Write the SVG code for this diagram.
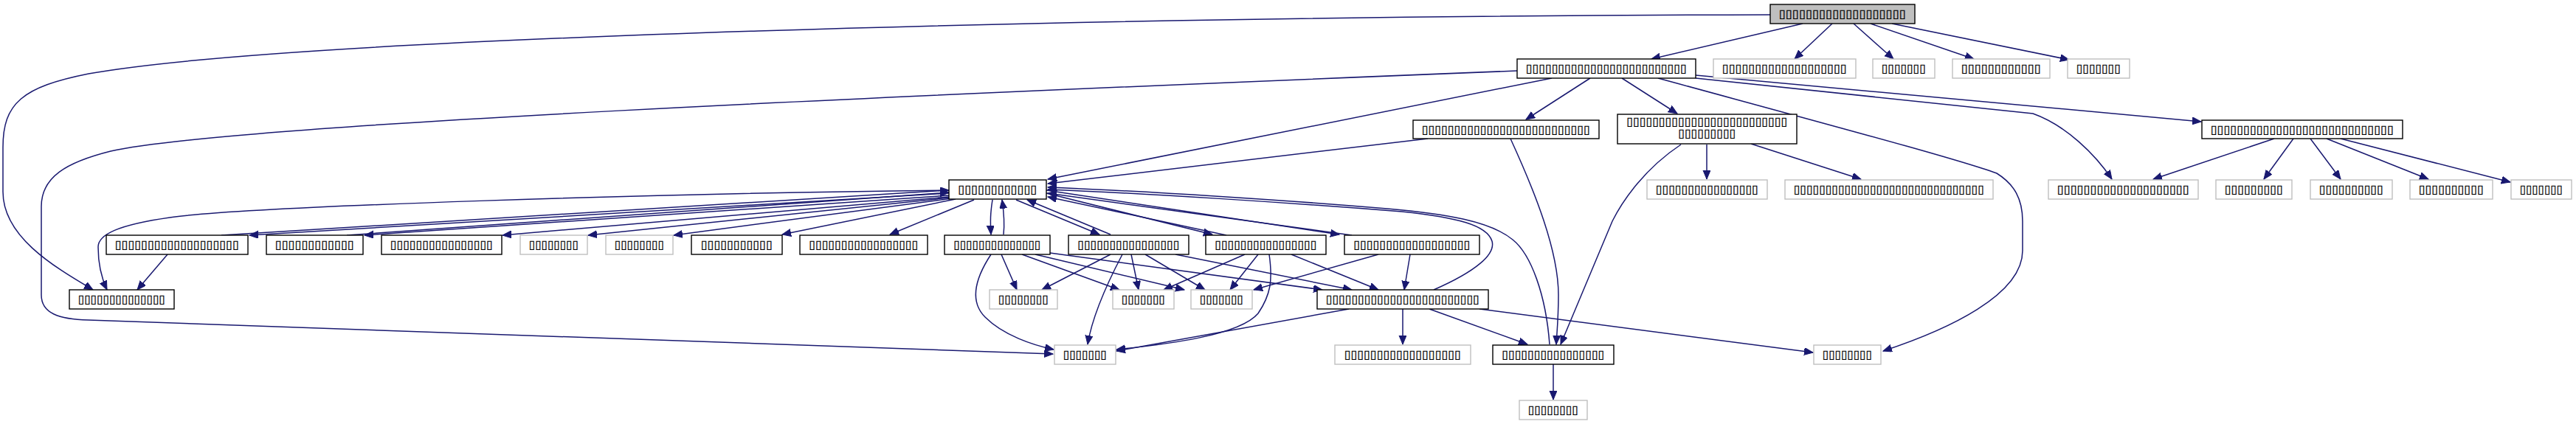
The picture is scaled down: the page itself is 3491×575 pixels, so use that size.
<svg xmlns="http://www.w3.org/2000/svg" width="3491" height="575" viewBox="0 0 3491 575">
<style>
.d{fill:#fff;stroke:#000;stroke-width:1.4}
.u{fill:#fff;stroke:#bfbfbf;stroke-width:1.4}
.r{fill:#bfbfbf;stroke:#000;stroke-width:1.4}
text{font-family:"DejaVu Sans","Liberation Sans",sans-serif;font-size:16px;fill:#000;stroke:#000;stroke-width:0.3;text-anchor:middle}
.e path{fill:none;stroke:#191970;stroke-width:1.5;marker-end:url(#a)}
</style>
<defs>
<marker id="a" markerUnits="userSpaceOnUse" markerWidth="13" markerHeight="11" refX="12" refY="5" orient="auto">
<path d="M0,0 L12,5 L0,10 z" fill="#191970" stroke="#191970" stroke-width="1"/>
</marker>
</defs>
<rect width="3491" height="575" fill="#fff"/>
<g class="e" id="connectors">
<path d="M2443,32 L2238,80"/>
<path d="M2483,32 L2432,80"/>
<path d="M2512,32 L2566,80"/>
<path d="M2535,32 L2675,80"/>
<path d="M2564,32 L2804,81"/>
<path d="M2399,20 C1500,22 400,50 120,100 C30,118 4,140 4,200 L4,260 C4,320 70,360 126,393"/>
<path d="M2155,106 L2068,162"/>
<path d="M2198,106 L2273,154"/>
<path d="M2103,106 L1420,243"/>
<path d="M1935,188 L1420,249"/>
<path d="M2056,96 C1200,130 300,170 150,205 C90,220 56,240 56,280 L56,400 C56,425 80,433 120,434 L1427,480"/>
<path d="M2247,106 C2500,175 2650,215 2706,235 C2730,250 2741,270 2741,300 L2741,340 C2741,400 2640,447 2552,476"/>
<path d="M2298,106 L2755,154 C2800,170 2840,210 2862,243"/>
<path d="M2298,102 L2983,165"/>
<path d="M2047,188 C2080,260 2112,340 2112,400 C2112,430 2110,450 2109,467"/>
<path d="M2313,196 L2313,243"/>
<path d="M2373,195 L2522,243"/>
<path d="M2278,196 C2230,228 2200,270 2185,300 L2115,467"/>
<path d="M3082,188 L2918,243"/>
<path d="M3108,188 L3068,243"/>
<path d="M3131,188 L3172,243"/>
<path d="M3153,188 L3291,243"/>
<path d="M3172,188 L3402,247"/>
<path d="M1286,262 L338,319"/>
<path d="M300,319 L1286,258"/>
<path d="M1286,265 L494,319"/>
<path d="M470,319 L1286,261"/>
<path d="M1286,258 C900,262 330,280 230,295 C160,305 133,318 133,335 C133,360 138,378 145,393"/>
<path d="M227,345 L186,393"/>
<path d="M1286,267 L681,319"/>
<path d="M1288,268 L797,319"/>
<path d="M1290,269 L913,319"/>
<path d="M1295,270 L1060,318"/>
<path d="M1320,271 L1206,318"/>
<path d="M1345,271 C1342,290 1342,300 1343,318"/>
<path d="M1360,318 C1362,300 1360,285 1358,271"/>
<path d="M1377,271 L1490,318"/>
<path d="M1505,318 L1392,271"/>
<path d="M1418,262 L1643,318"/>
<path d="M1662,319 L1420,267"/>
<path d="M1418,258 L1815,318"/>
<path d="M1832,319 L1420,262"/>
<path d="M1943,393 C2000,368 2027,345 2022,327 C2015,305 1975,295 1900,287 C1750,275 1550,262 1420,257"/>
<path d="M2100,467 C2095,400 2075,345 2050,325 C2020,300 1960,290 1880,283 C1750,272 1550,259 1420,254"/>
<path d="M1357,345 L1378,393"/>
<path d="M1343,345 C1320,380 1315,410 1335,430 C1360,455 1400,468 1428,474"/>
<path d="M1385,345 L1517,393"/>
<path d="M1403,345 L1605,393"/>
<path d="M1423,343 L1792,393"/>
<path d="M1505,345 L1412,393"/>
<path d="M1521,345 C1500,385 1480,430 1474,467"/>
<path d="M1533,345 L1543,393"/>
<path d="M1552,345 L1633,393"/>
<path d="M1593,345 L1832,393"/>
<path d="M1687,345 L1577,393"/>
<path d="M1705,345 L1667,393"/>
<path d="M1720,345 C1725,380 1722,400 1705,425 C1680,455 1580,467 1513,474"/>
<path d="M1750,345 L1868,393"/>
<path d="M1868,345 L1699,393"/>
<path d="M1911,345 L1903,393"/>
<path d="M1828,419 L1513,476"/>
<path d="M1901,419 L1901,467"/>
<path d="M1937,419 L2070,467"/>
<path d="M2005,419 L2457,478"/>
<path d="M2105,494 L2105,542"/>
</g>
<g id="N0"><rect class="r" x="2399" y="6" width="196" height="26"/><text x="2497" y="24" textLength="172" lengthAdjust="spacingAndGlyphs">▯▯▯▯▯▯▯▯▯▯▯▯▯▯▯▯▯▯▯</text></g>
<g id="N1"><rect class="d" x="2056" y="80" width="242" height="26"/><text x="2177" y="98" textLength="218" lengthAdjust="spacingAndGlyphs">▯▯▯▯▯▯▯▯▯▯▯▯▯▯▯▯▯▯▯▯▯▯▯▯▯</text></g>
<g id="N2"><rect class="u" x="2322" y="80" width="193" height="26"/><text x="2418.5" y="98" textLength="169" lengthAdjust="spacingAndGlyphs">▯▯▯▯▯▯▯▯▯▯▯▯▯▯▯▯▯▯▯</text></g>
<g id="N3"><rect class="u" x="2538" y="80" width="84" height="26"/><text x="2580" y="98" textLength="60" lengthAdjust="spacingAndGlyphs">▯▯▯▯▯▯▯</text></g>
<g id="N4"><rect class="u" x="2646" y="80" width="132" height="26"/><text x="2712" y="98" textLength="108" lengthAdjust="spacingAndGlyphs">▯▯▯▯▯▯▯▯▯▯▯▯</text></g>
<g id="N5"><rect class="u" x="2802" y="80" width="84" height="26"/><text x="2844" y="98" textLength="60" lengthAdjust="spacingAndGlyphs">▯▯▯▯▯▯▯</text></g>
<g id="N6"><rect class="d" x="1915" y="163" width="252" height="25"/><text x="2041" y="181" textLength="228" lengthAdjust="spacingAndGlyphs">▯▯▯▯▯▯▯▯▯▯▯▯▯▯▯▯▯▯▯▯▯▯▯▯▯▯</text></g>
<g id="N7"><rect class="d" x="2192" y="155" width="243" height="40"/><text x="2313.5" y="170" textLength="218" lengthAdjust="spacingAndGlyphs">▯▯▯▯▯▯▯▯▯▯▯▯▯▯▯▯▯▯▯▯▯▯▯▯▯</text><text x="2313.5" y="186" textLength="78" lengthAdjust="spacingAndGlyphs">▯▯▯▯▯▯▯▯▯</text></g>
<g id="N8"><rect class="d" x="2984" y="163" width="272" height="25"/><text x="3120" y="181" textLength="248" lengthAdjust="spacingAndGlyphs">▯▯▯▯▯▯▯▯▯▯▯▯▯▯▯▯▯▯▯▯▯▯▯▯▯▯▯▯</text></g>
<g id="N9"><rect class="d" x="1286" y="244" width="132" height="26"/><text x="1352" y="262" textLength="107" lengthAdjust="spacingAndGlyphs">▯▯▯▯▯▯▯▯▯▯▯▯</text></g>
<g id="R3a"><rect class="u" x="2232" y="244" width="163" height="26"/><text x="2313.5" y="262" textLength="139" lengthAdjust="spacingAndGlyphs">▯▯▯▯▯▯▯▯▯▯▯▯▯▯▯▯</text></g>
<g id="N10"><rect class="u" x="2419" y="244" width="282" height="26"/><text x="2560" y="262" textLength="258" lengthAdjust="spacingAndGlyphs">▯▯▯▯▯▯▯▯▯▯▯▯▯▯▯▯▯▯▯▯▯▯▯▯▯▯▯▯▯▯</text></g>
<g id="N11"><rect class="u" x="2776" y="244" width="203" height="26"/><text x="2877.5" y="262" textLength="179" lengthAdjust="spacingAndGlyphs">▯▯▯▯▯▯▯▯▯▯▯▯▯▯▯▯▯▯▯▯</text></g>
<g id="N12"><rect class="u" x="3003" y="244" width="103" height="26"/><text x="3054.5" y="262" textLength="79" lengthAdjust="spacingAndGlyphs">▯▯▯▯▯▯▯▯▯</text></g>
<g id="N13"><rect class="u" x="3131" y="244" width="111" height="26"/><text x="3186.5" y="262" textLength="87" lengthAdjust="spacingAndGlyphs">▯▯▯▯▯▯▯▯▯▯</text></g>
<g id="N14"><rect class="u" x="3266" y="244" width="112" height="26"/><text x="3322" y="262" textLength="88" lengthAdjust="spacingAndGlyphs">▯▯▯▯▯▯▯▯▯▯</text></g>
<g id="N15"><rect class="u" x="3403" y="244" width="82" height="26"/><text x="3444" y="262" textLength="58" lengthAdjust="spacingAndGlyphs">▯▯▯▯▯▯▯</text></g>
<g id="R4a"><rect class="d" x="144" y="319" width="192" height="26"/><text x="240" y="337" textLength="168" lengthAdjust="spacingAndGlyphs">▯▯▯▯▯▯▯▯▯▯▯▯▯▯▯▯▯▯▯</text></g>
<g id="R4b"><rect class="d" x="361" y="319" width="131" height="26"/><text x="426.5" y="337" textLength="107" lengthAdjust="spacingAndGlyphs">▯▯▯▯▯▯▯▯▯▯▯▯</text></g>
<g id="R4c"><rect class="d" x="517" y="319" width="163" height="26"/><text x="598.5" y="337" textLength="139" lengthAdjust="spacingAndGlyphs">▯▯▯▯▯▯▯▯▯▯▯▯▯▯▯▯</text></g>
<g id="R4d"><rect class="u" x="705" y="319" width="91" height="26"/><text x="750.5" y="337" textLength="67" lengthAdjust="spacingAndGlyphs">▯▯▯▯▯▯▯▯</text></g>
<g id="R4e"><rect class="u" x="821" y="319" width="91" height="26"/><text x="866.5" y="337" textLength="67" lengthAdjust="spacingAndGlyphs">▯▯▯▯▯▯▯▯</text></g>
<g id="R4f"><rect class="d" x="937" y="319" width="123" height="26"/><text x="998.5" y="337" textLength="97" lengthAdjust="spacingAndGlyphs">▯▯▯▯▯▯▯▯▯▯▯</text></g>
<g id="R4g"><rect class="d" x="1084" y="319" width="173" height="26"/><text x="1170.5" y="337" textLength="148" lengthAdjust="spacingAndGlyphs">▯▯▯▯▯▯▯▯▯▯▯▯▯▯▯▯▯</text></g>
<g id="R4h"><rect class="d" x="1280" y="319" width="143" height="26"/><text x="1351.5" y="337" textLength="118" lengthAdjust="spacingAndGlyphs">▯▯▯▯▯▯▯▯▯▯▯▯▯▯</text></g>
<g id="R4i"><rect class="d" x="1448" y="319" width="163" height="26"/><text x="1529.5" y="337" textLength="138" lengthAdjust="spacingAndGlyphs">▯▯▯▯▯▯▯▯▯▯▯▯▯▯▯▯</text></g>
<g id="R4j"><rect class="d" x="1634" y="319" width="163" height="26"/><text x="1715.5" y="337" textLength="138" lengthAdjust="spacingAndGlyphs">▯▯▯▯▯▯▯▯▯▯▯▯▯▯▯▯</text></g>
<g id="R4k"><rect class="d" x="1822" y="319" width="183" height="26"/><text x="1913.5" y="337" textLength="158" lengthAdjust="spacingAndGlyphs">▯▯▯▯▯▯▯▯▯▯▯▯▯▯▯▯▯▯</text></g>
<g id="R5a"><rect class="d" x="94" y="393" width="142" height="26"/><text x="165" y="411" textLength="118" lengthAdjust="spacingAndGlyphs">▯▯▯▯▯▯▯▯▯▯▯▯▯▯</text></g>
<g id="R5b"><rect class="u" x="1341" y="393" width="92" height="26"/><text x="1387" y="411" textLength="68" lengthAdjust="spacingAndGlyphs">▯▯▯▯▯▯▯▯</text></g>
<g id="R5c"><rect class="u" x="1508" y="393" width="83" height="26"/><text x="1549.5" y="411" textLength="59" lengthAdjust="spacingAndGlyphs">▯▯▯▯▯▯▯</text></g>
<g id="R5d"><rect class="u" x="1614" y="393" width="83" height="26"/><text x="1655.5" y="411" textLength="59" lengthAdjust="spacingAndGlyphs">▯▯▯▯▯▯▯</text></g>
<g id="R5e"><rect class="d" x="1785" y="393" width="232" height="26"/><text x="1901" y="411" textLength="208" lengthAdjust="spacingAndGlyphs">▯▯▯▯▯▯▯▯▯▯▯▯▯▯▯▯▯▯▯▯▯▯▯▯</text></g>
<g id="R6a"><rect class="u" x="1429" y="468" width="83" height="26"/><text x="1470.5" y="486" textLength="59" lengthAdjust="spacingAndGlyphs">▯▯▯▯▯▯▯</text></g>
<g id="R6b"><rect class="u" x="1809" y="468" width="184" height="26"/><text x="1901" y="486" textLength="158" lengthAdjust="spacingAndGlyphs">▯▯▯▯▯▯▯▯▯▯▯▯▯▯▯▯▯▯</text></g>
<g id="R6c"><rect class="d" x="2023" y="468" width="164" height="26"/><text x="2105" y="486" textLength="139" lengthAdjust="spacingAndGlyphs">▯▯▯▯▯▯▯▯▯▯▯▯▯▯▯▯</text></g>
<g id="R6d"><rect class="u" x="2458" y="468" width="91" height="26"/><text x="2503.5" y="486" textLength="67" lengthAdjust="spacingAndGlyphs">▯▯▯▯▯▯▯▯</text></g>
<g id="R7a"><rect class="u" x="2059" y="543" width="92" height="26"/><text x="2105" y="561" textLength="68" lengthAdjust="spacingAndGlyphs">▯▯▯▯▯▯▯▯</text></g>
</svg>
